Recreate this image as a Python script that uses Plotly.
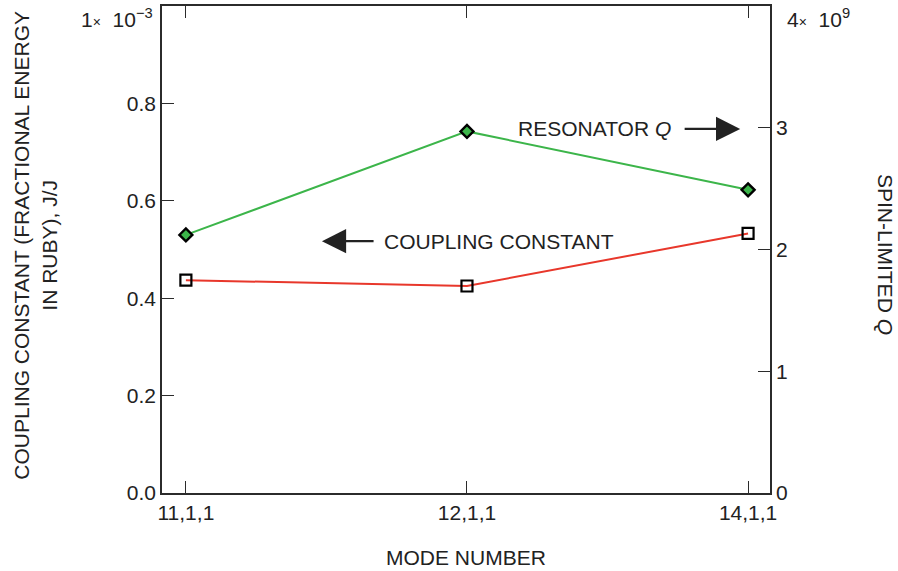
import plotly.graph_objects as go

modes = ["11,1,1", "12,1,1", "14,1,1"]
coupling = [0.437, 0.425, 0.533]          # x 1e-3 J/J (left axis)
resonator_q = [2.12, 2.97, 2.49]          # x 1e9 (right axis)
left_ticks = [0.0, 0.2, 0.4, 0.6, 0.8]
left_tick_text = ["0.0", "0.2", "0.4", "0.6", "0.8"]
right_ticks = [0, 1, 2, 3]
right_tick_text = ["0", "1", "2", "3"]

FONT = "Liberation Sans, Arial, Helvetica, sans-serif"
FS = 21
AX = "#2b2b2b"
TXT = "#222"
xpos = list(range(len(modes)))

fig = go.Figure()
fig.add_trace(go.Scatter(
    x=xpos, y=coupling, mode="lines+markers", yaxis="y",
    line=dict(color="#e8372b", width=2),
    marker=dict(symbol="square-open", size=11, color="black", line=dict(width=2.2, color="black")),
    showlegend=False))
fig.add_trace(go.Scatter(
    x=xpos, y=resonator_q, mode="lines+markers", yaxis="y2",
    line=dict(color="#3cb54a", width=2),
    marker=dict(symbol="diamond", size=10, color="#3cb54a", line=dict(width=2.4, color="black")),
    showlegend=False))

axis_common = dict(showgrid=False, zeroline=False, showline=True, linecolor=AX, linewidth=1.5,
                   ticks="inside", ticklen=12, tickwidth=1.2, tickcolor=AX, automargin=False,
                   tickfont=dict(family=FONT, size=FS, color=TXT))

fig.update_layout(
    width=898, height=571,
    margin=dict(l=162, r=128, t=6, b=78, autoexpand=False),
    paper_bgcolor="white", plot_bgcolor="white",
    font=dict(family=FONT, size=FS, color=TXT),
    xaxis=dict(range=[-0.085, 2.078], tickvals=xpos, ticktext=modes, mirror="ticks", **axis_common),
    yaxis=dict(range=[0, 1.0], tickvals=left_ticks, ticktext=left_tick_text, **axis_common),
    yaxis2=dict(range=[0, 4.0], tickvals=right_ticks, ticktext=right_tick_text,
                overlaying="y", side="right", **axis_common),
)

def note(**kw):
    kw.setdefault("showarrow", False)
    kw.setdefault("font", dict(family=FONT, size=FS, color=TXT))
    fig.add_annotation(**kw)

# axis titles
note(xref="paper", yref="paper", x=0.5, y=-0.133, xanchor="center", yanchor="middle",
     text="MODE NUMBER")
note(xref="paper", yref="paper", x=-0.208, y=0.509, xanchor="center", yanchor="middle",
     text="COUPLING CONSTANT (FRACTIONAL ENERGY<br>IN RUBY), J/J", textangle=-90)
note(xref="paper", yref="paper", x=1.189, y=0.489, xanchor="center", yanchor="middle",
     text="SPIN-LIMITED <i>Q</i>", textangle=90)

# axis multipliers
note(xref="paper", yref="paper", x=-0.0115, y=0.975, xanchor="right", yanchor="middle",
     text="1<span style='font-size:14px'>×</span>  10<sup>−3</sup>")
note(xref="paper", yref="paper", x=1.0247, y=0.975, xanchor="left", yanchor="middle",
     text="4<span style='font-size:14px'>×</span>  10<sup>9</sup>")

# labels + arrows
note(xref="x", yref="y2", x=1.454, y=2.99, text="RESONATOR <i>Q</i>")
fig.add_annotation(xref="x", yref="y2", x=1.972, y=2.99, ax=1.769, ay=2.99, axref="x", ayref="y2",
                   text="", showarrow=True, arrowhead=2, arrowsize=2.2, arrowwidth=2.2, arrowcolor=TXT)
note(xref="x", yref="y", x=1.114, y=0.517, text="COUPLING CONSTANT")
fig.add_annotation(xref="x", yref="y", x=0.484, y=0.517, ax=0.673, ay=0.517, axref="x", ayref="y",
                   text="", showarrow=True, arrowhead=2, arrowsize=2.2, arrowwidth=2.2, arrowcolor=TXT)

fig.write_html("out.html", config={"displayModeBar": False},
               post_script="document.body.style.margin='0';document.body.style.overflow='hidden';")
